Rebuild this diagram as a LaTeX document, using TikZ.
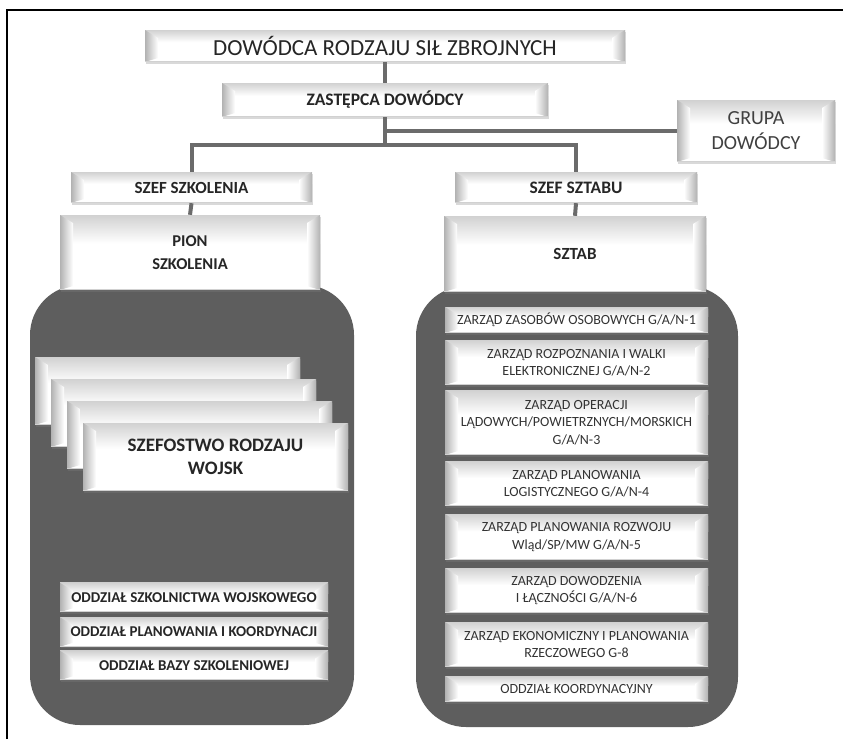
\documentclass[tikz,border=0pt]{standalone}
\usepackage{fontspec}
\setmainfont{Carlito}
\usetikzlibrary{calc,shadows}

\begin{document}
\begin{tikzpicture}[x=1pt,y=-1pt,
  % bevelled "pillow" face used by every white box
  pillow/.style={path picture={
    \coordinate (pnw) at (path picture bounding box.north west);
    \coordinate (pne) at (path picture bounding box.north east);
    \coordinate (psw) at (path picture bounding box.south west);
    \coordinate (pse) at (path picture bounding box.south east);
    \shade[top color=black!18, bottom color=white] (pnw) rectangle ($(pne)!0.38!(pse)$);
    \shade[left color=black!30, right color=white]
      (pnw) -- ++(13pt,-8pt) -- ($(psw)+(13pt,4pt)$) -- (psw) -- cycle;
    \shade[right color=black!30, left color=white]
      (pne) -- ++(-13pt,-8pt) -- ($(pse)+(-13pt,4pt)$) -- (pse) -- cycle;
    \fill[black!18] (psw) rectangle ($(pse)+(0pt,1.2pt)$);
  }},
  box/.style={fill=white, inner sep=0pt, align=center, text=black!85, pillow,
    drop shadow={shadow xshift=1.2pt, shadow yshift=-1.5pt, opacity=0.3}},
  unitbox/.style={box, minimum width=263pt, text=black!80,
    font=\fontsize{14}{17.5}\selectfont},
  sectbox/.style={box, minimum width=268pt, minimum height=29.5pt,
    font=\bfseries\fontsize{15}{18}\selectfont},
  card/.style={box, minimum width=265pt, minimum height=68pt},
  link/.style={draw=black!58, line width=4pt},
  panel/.style={fill=black!63, rounded corners=50pt},
]
\useasboundingbox (0,0) rectangle (843,739);

% outer frame
\draw[line width=2pt] (7,739) -- (7,10) -- (843,10);

% dark panels behind the two divisions
\path[panel] (30,285) rectangle (354,725);
\path[panel] (416,286) rectangle (738,727);

% command level
\node[box, minimum width=480pt, minimum height=32pt,
      font=\fontsize{23}{27}\selectfont] (dow) at (385,46) {DOWÓDCA RODZAJU SIŁ ZBROJNYCH};
\node[box, minimum width=326pt, minimum height=34pt,
      font=\bfseries\fontsize{17.5}{21}\selectfont] (zas) at (385,100) {ZASTĘPCA DOWÓDCY};
\node[box, minimum width=158pt, minimum height=62pt, text=black!75,
      font=\fontsize{20}{25}\selectfont] (grupa) at (756,131) {GRUPA\\DOWÓDCY};

% chiefs
\node[box, minimum width=241pt, minimum height=31pt,
      font=\bfseries\fontsize{17}{20}\selectfont] (szksz) at (191.5,187.5) {SZEF SZKOLENIA};
\node[box, minimum width=242pt, minimum height=31pt,
      font=\bfseries\fontsize{17.5}{20}\selectfont] (sztsz) at (576,187.5) {SZEF SZTABU};

% divisions
\node[box, minimum width=260pt, minimum height=75pt,
      font=\bfseries\fontsize{16.5}{23}\selectfont] (pion) at (190,252.5) {PION\\SZKOLENIA};
\node[box, minimum width=262pt, minimum height=76pt,
      font=\bfseries\fontsize{17}{20}\selectfont] (sztab) at (575,254) {SZTAB};

% stacked branch directorates
\node[card] (card1) at (167.5,391) {};
\node[card] (card2) at (183.5,413) {};
\node[card] (card3) at (199.5,435) {};
\node[card, font=\bfseries\fontsize{19}{23}\selectfont] (card4) at (215.5,457)
  {SZEFOSTWO RODZAJU\\WOJSK};

% training departments
\node[sectbox] (odd1) at (194,597.5) {ODDZIAŁ SZKOLNICTWA WOJSKOWEGO};
\node[sectbox] (odd2) at (194,632) {ODDZIAŁ PLANOWANIA I KOORDYNACJI};
\node[sectbox] (odd3) at (194,665.5) {ODDZIAŁ BAZY SZKOLENIOWEJ};

% staff directorates
\node[unitbox, minimum height=26pt] (g1) at (576.5,320) {ZARZĄD ZASOBÓW OSOBOWYCH G/A/N-1};
\node[unitbox, minimum height=45pt] (g2) at (576.5,362.5) {ZARZĄD ROZPOZNANIA I WALKI\\ELEKTRONICZNEJ G/A/N-2};
\node[unitbox, minimum height=65pt] (g3) at (576.5,422.5) {ZARZĄD OPERACJI\\LĄDOWYCH/POWIETRZNYCH/MORSKICH\\G/A/N-3};
\node[unitbox, minimum height=45pt] (g4) at (576.5,483.5) {ZARZĄD PLANOWANIA\\LOGISTYCZNEGO G/A/N-4};
\node[unitbox, minimum height=46pt] (g5) at (576.5,537) {ZARZĄD PLANOWANIA ROZWOJU\\Wląd/SP/MW G/A/N-5};
\node[unitbox, minimum height=45pt] (g6) at (576.5,590.5) {ZARZĄD DOWODZENIA\\I ŁĄCZNOŚCI G/A/N-6};
\node[unitbox, minimum height=45pt] (g7) at (576.5,644.5) {ZARZĄD EKONOMICZNY I PLANOWANIA\\RZECZOWEGO G-8};
\node[unitbox, minimum height=26pt] (g8) at (576.5,689) {ODDZIAŁ KOORDYNACYJNY};

% connectors
\coordinate (bar) at (385,145);
\draw[link] (dow.south) -- (zas.north);
\draw[link] (zas.south) -- (bar);
\draw[link] (zas.south |- grupa.west) -- (grupa.west);
\draw[link] (szksz.north) -- (szksz.north |- bar) -- (sztsz.north |- bar) -- (sztsz.north);
\draw[link] (szksz.south) -- (pion.north);
\draw[link] (sztsz.south) -- (sztab.north);
\end{tikzpicture}
\end{document}
